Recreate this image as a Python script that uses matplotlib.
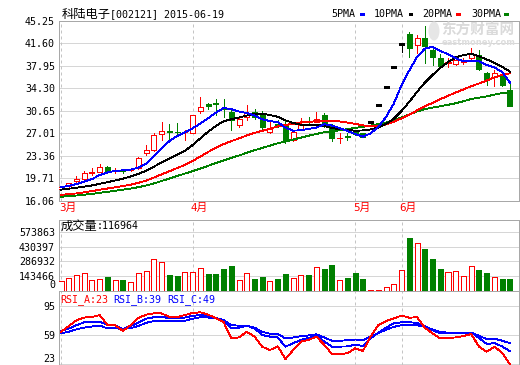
import matplotlib
matplotlib.use("Agg")
import matplotlib.pyplot as plt
from matplotlib.patches import Rectangle, Ellipse

# ---------------- data ----------------
stock_name = "科陆电子"
stock_code = "[002121] 2015-06-19"
month_labels = ["3月", "4月", "5月", "6月"]
month_start = [0, 17, 38, 44]

opens = [18.0, 18.5, 19.25, 19.65, 20.6, 20.8, 21.5, 20.9, 21.05, 21.0,
         21.35, 23.8, 24.3, 26.9, 27.35, 27.3, 27.15, 27.1, 30.7, 31.7,
         31.85, 31.05, 30.5, 28.3, 29.7, 30.4, 30.3, 27.25, 28.5, 28.4,
         25.9, 27.6, 28.85, 28.9, 30.0, 28.2, 26.2, 26.55, 27.3, 27.0,
         28.9, 31.55, 34.5, 37.8, 41.4, 43.1, 41.3, 42.4, 40.5, 39.2,
         38.4, 38.2, 38.55, 39.2, 39.7, 36.85, 36.1, 36.6, 34.0]
highs = [18.4, 19.0, 20.1, 20.9, 21.45, 22.05, 21.7, 21.35, 21.3, 21.4,
         23.15, 25.1, 27.0, 28.9, 28.6, 28.7, 27.6, 30.0, 32.85, 32.0,
         32.5, 32.5, 30.95, 29.7, 31.6, 31.0, 30.6, 29.2, 29.2, 29.2,
         27.4, 29.45, 29.7, 30.5, 30.3, 28.5, 27.0, 27.0, 27.5, 27.1,
         28.9, 31.55, 34.5, 37.8, 41.4, 43.5, 43.0, 44.4, 41.1, 39.9,
         39.2, 39.1, 39.2, 40.9, 40.45, 37.0, 37.3, 37.0, 35.0]
lows = [17.8, 18.4, 19.2, 19.5, 20.3, 20.7, 20.8, 20.55, 20.6, 20.9,
        21.2, 23.5, 24.2, 26.0, 26.0, 26.9, 26.0, 27.0, 30.3, 30.9,
        30.0, 29.6, 27.6, 28.0, 29.1, 29.3, 27.7, 27.0, 28.1, 25.5,
        25.7, 27.5, 28.4, 28.8, 28.1, 25.8, 25.4, 25.9, 26.7, 26.4,
        28.9, 31.55, 34.5, 37.8, 40.2, 39.3, 40.0, 38.35, 38.1, 37.8,
        37.8, 38.0, 38.2, 39.0, 37.2, 34.85, 34.6, 34.6, 31.45]
closes = [18.25, 18.9, 19.6, 20.6, 20.7, 21.5, 20.95, 21.0, 20.95, 21.3,
          23.1, 24.3, 26.75, 27.4, 27.25, 27.2, 27.3, 30.0, 31.3, 31.5,
          31.7, 31.0, 29.2, 29.3, 30.35, 29.7, 28.0, 27.65, 28.4, 25.9,
          27.3, 28.35, 28.8, 29.3, 28.75, 26.2, 26.3, 26.45, 26.9, 26.5,
          28.9, 31.55, 34.5, 37.8, 41.4, 40.8, 42.4, 41.2, 39.3, 37.9,
          38.5, 38.9, 38.65, 39.85, 37.4, 35.65, 36.85, 34.85, 31.45]

ma5 = [18.3, 18.5, 18.8, 19.2, 19.61, 20.26, 20.67, 20.95, 21.02, 21.14,
       21.46, 22.13, 23.28, 24.57, 25.76, 26.58, 27.18, 27.83, 28.61, 29.46,
       30.36, 31.10, 30.94, 30.54, 30.31, 29.91, 29.31, 29.0, 28.82, 27.93,
       27.45, 27.52, 27.75, 27.93, 28.5, 28.28, 27.87, 27.4, 26.92, 26.47,
       27.01, 28.06, 29.67, 31.85, 34.83, 37.21, 39.38, 40.72, 41.02, 40.32,
       39.86, 39.16, 38.65, 38.76, 38.66, 38.09, 37.68, 36.92, 35.24]
ma10 = [17.9, 18.05, 18.2, 18.38, 18.58, 18.85, 19.1, 19.38, 19.66, 20.05,
        20.45, 20.95, 21.62, 22.3, 22.95, 23.52, 24.18, 25.12, 26.2, 27.28,
        28.2, 28.95, 29.3, 29.58, 29.89, 30.14, 30.21, 29.97, 29.69, 29.13,
        28.69, 28.42, 28.38, 28.38, 28.22, 27.87, 27.70, 27.58, 27.43, 27.49,
        27.65, 27.96, 28.53, 29.38, 30.65, 32.12, 33.74, 35.21, 36.46, 37.60,
        38.56, 39.29, 39.70, 39.89, 39.49, 38.98, 38.42, 37.79, 37.00]
ma20 = [17.07, 17.16, 17.29, 17.47, 17.66, 17.88, 18.08, 18.28, 18.48, 18.7,
        19.0, 19.36, 19.85, 20.37, 20.88, 21.39, 21.9, 22.55, 23.26, 23.99,
        24.67, 25.27, 25.75, 26.19, 26.67, 27.08, 27.43, 27.76, 28.13, 28.36,
        28.57, 28.78, 28.88, 28.97, 29.05, 29.0, 28.95, 28.77, 28.55, 28.30,
        28.18, 28.21, 28.47, 28.90, 29.45, 30.01, 30.73, 31.41, 31.94, 32.54,
        33.10, 33.63, 34.12, 34.65, 35.08, 35.56, 36.08, 36.50, 36.73]
ma30 = [16.75, 16.85, 16.95, 17.08, 17.22, 17.38, 17.55, 17.72, 17.9, 18.08,
        18.3, 18.58, 18.9, 19.3, 19.7, 20.1, 20.5, 20.9, 21.3, 21.75,
        22.2, 22.63, 23.03, 23.43, 23.86, 24.28, 24.65, 25.02, 25.41, 25.70,
        26.01, 26.32, 26.63, 26.92, 27.19, 27.34, 27.52, 27.70, 27.90, 28.07,
        28.27, 28.51, 28.77, 29.12, 29.59, 30.05, 30.55, 30.92, 31.19, 31.40,
        31.63, 31.89, 32.21, 32.56, 32.80, 32.99, 33.29, 33.53, 33.62]

volumes = [93200, 119400, 148800, 168400, 99700, 109600, 129200, 99700, 99700, 80100,
           168400, 194600, 312300, 279600, 152100, 142200, 178200, 184700, 224000, 161900,
           161900, 207600, 240300, 106300, 168400, 112800, 135700, 93200, 112800, 161900,
           119400, 152100, 152100, 227300, 210900, 250200, 103000, 122600, 174900, 112800,
           8000, 8000, 37600, 63800, 201100, 515000, 462700, 407100, 309000, 210900,
           181500, 191300, 142200, 240300, 201100, 174900, 129200, 112800, 116964]

rsi_a = [63, 70, 77, 80.5, 81, 83.5, 71.3, 71, 64, 71,
         80, 84, 85.6, 85.6, 81, 81, 83.5, 86, 86.9, 84,
         80, 75, 55, 56, 63, 57, 44.5, 40.6, 45, 29.5,
         40.6, 50.8, 52.9, 57, 47, 35.7, 35.7, 36.5, 42.6, 39.3,
         57, 71.3, 76, 79.5, 82.8, 80.3, 80.8, 68, 61, 54.9,
         55.5, 56, 57.8, 60.2, 44.7, 38.5, 44.7, 37, 23]
rsi_b = [63.9, 67, 71, 74.6, 75, 75.4, 71.3, 71, 66.4, 70,
         74, 79, 80.8, 81.5, 79.5, 79.5, 80.5, 82.5, 83.6, 82,
         80, 77.4, 67.2, 68, 70.5, 67, 59, 57, 56, 44.7,
         49, 53, 55.5, 58, 51, 44.7, 44.7, 45, 47, 45.5,
         55, 62, 68, 73.3, 74.6, 74.6, 74, 70, 65, 61.1,
         61.1, 61.1, 61.5, 62, 55.5, 48, 49, 45, 39]
rsi_c = [61.1, 63, 66, 68, 69.5, 70.5, 67.2, 67.2, 66.4, 67.5,
         70, 74, 76, 76.2, 76, 76, 76.5, 79, 80.8, 80.5,
         79.5, 77.4, 71, 70.5, 70.5, 68, 63, 60.5, 60, 54.9,
         56, 57.5, 58.5, 59.8, 56, 52, 52, 52.5, 53.5, 52.5,
         57, 61.5, 65.5, 69, 71, 71.3, 71, 69, 66, 62.5,
         62, 61.5, 61.5, 62, 58, 54, 54.5, 52, 49]

price_ticks = [16.06, 19.71, 23.36, 27.01, 30.65, 34.30, 37.95, 41.60, 45.25]
price_tick_labels = ["16.06", "19.71", "23.36", "27.01", "30.65", "34.30", "37.95", "41.60", "45.25"]
vol_ticks = [0, 143466, 286932, 430397, 573863]
vol_tick_labels = ["0", "143466", "286932", "430397", "573863"]
rsi_ticks = [23, 59, 95]
rsi_tick_labels = ["23", "59", "95"]
legend_names = ["5PMA", "10PMA", "20PMA", "30PMA"]
vol_title = "成交量"
vol_last = ":116964"
rsi_names = ["RSI_A:23", "RSI_B:39", "RSI_C:49"]
watermark_cn = "东方财富网"
watermark_en = "eastmoney.com"

# ---------------- styling ----------------
RED = "#ff0000"
GREEN = "#008000"
BLUE = "#0000ff"
GRID = "#d6d6d6"
SPINE = "#a8a8a8"
MONO = "DejaVu Sans Mono"
CJK = "Noto Sans CJK SC"
FS = 7.2
LW = 0.72

W, H = 520, 365
fig = plt.figure(figsize=(W / 100, H / 100), dpi=100)
fig.patch.set_facecolor("white")


def frect(x0, y0, x1, y1):
    return [x0 / W, 1 - y1 / H, (x1 - x0) / W, (y1 - y0) / H]


def ftext(x, y, s, **kw):
    return fig.text(x / W, 1 - y / H, s, **kw)


LEFT, RIGHT = 59, 519
STEP = 7.74
X0 = 61
xlim = ((LEFT - X0) / STEP, (RIGHT - X0) / STEP)

ax = fig.add_axes(frect(LEFT, 20.7, RIGHT, 201))
axv = fig.add_axes(frect(LEFT, 219.5, RIGHT, 290.5))
axr = fig.add_axes(frect(LEFT, 290.5, RIGHT, 364.5))

vol_top = 573863 * (290.5 - 219.5) / (290.5 - 232.0)
rsi_scale = (364.3 - 305.7) / 72.0
rsi_top = 95 + (305.7 - 290.5) / rsi_scale
rsi_bot = 23 - (364.5 - 364.3) / rsi_scale

for a in (ax, axv, axr):
    a.set_xlim(*xlim)
    a.set_xticks([])
    a.tick_params(axis="y", length=0, pad=2.9, labelsize=FS)
    for sp in a.spines.values():
        sp.set_color(SPINE)
        sp.set_linewidth(LW)
    a.set_axisbelow(True)
    a.grid(axis="y", color=GRID, lw=LW)
    for m in month_start:
        a.axvline(m, color="#c4c4c4", lw=LW, ls=(0, (3, 3)), zorder=1)

ax.set_ylim(16.06, 45.25)
ax.set_yticks(price_ticks)
ax.set_yticklabels(price_tick_labels, fontfamily=MONO, fontsize=FS)

axv.set_ylim(0, vol_top)
axv.set_yticks(vol_ticks)
axv.set_yticklabels(vol_tick_labels, fontfamily=MONO, fontsize=FS)
axv.get_yticklabels()[0].set_va("bottom")

axr.set_ylim(rsi_bot, rsi_top)
axr.set_yticks(rsi_ticks)
axr.set_yticklabels(rsi_tick_labels, fontfamily=MONO, fontsize=FS)
axr.get_yticklabels()[0].set_va("bottom")

# watermark (behind the candles)
ftext(441, 30, watermark_cn, fontfamily=CJK, fontsize=10.5, fontweight="bold",
      color="#dadada", va="center", ha="left", zorder=0)
ftext(442, 42.5, watermark_en, fontfamily="DejaVu Sans", fontsize=6.0, fontweight="bold",
      color="#dddddd", va="center", ha="left", zorder=0)
fig.patches.append(Ellipse((434 / W, 1 - 31 / H), 11 / W, 19 / H, transform=fig.transFigure,
                           facecolor="#e6e6e6", edgecolor="none", zorder=0))

# candles
bw = 0.65
n = len(closes)
for i in range(n):
    o, h, l, c = opens[i], highs[i], lows[i], closes[i]
    if c > o:
        col, face = RED, "white"
    elif c < o:
        col, face = GREEN, GREEN
    else:
        col, face = "black", "black"
    ax.vlines(i, l, h, color=col, lw=LW, zorder=3, antialiased=False)
    if c != o:
        ax.bar(i, abs(c - o), bw, bottom=min(o, c), facecolor=face, edgecolor=col,
               lw=LW, zorder=4, antialiased=False)
    else:
        ax.hlines(c, i - bw / 2, i + bw / 2, color=col, lw=LW * 1.4, zorder=4, antialiased=False)

xs = list(range(n))
MLW = 0.62
ax.plot(xs, ma30, color=GREEN, lw=MLW, zorder=5, antialiased=False)
ax.plot(xs, ma20, color=RED, lw=MLW, zorder=5, antialiased=False)
ax.plot(xs, ma10, color="black", lw=MLW, zorder=5, antialiased=False)
ax.plot(xs, ma5, color=BLUE, lw=MLW, zorder=5, antialiased=False)

for m, lab in zip(month_start, month_labels):
    ax.text(m - 2 / STEP, -0.039, lab, transform=ax.get_xaxis_transform(), color=RED,
            fontfamily=[MONO, CJK], fontsize=7.8, ha="left", va="center")

for i in range(n):
    up = closes[i] >= opens[i]
    axv.bar(i, volumes[i], bw, facecolor="white" if up else GREEN,
            edgecolor=RED if up else GREEN, lw=LW, zorder=3, antialiased=False)

axr.plot(xs, rsi_c, color=BLUE, lw=MLW, zorder=3, antialiased=False)
axr.plot(xs, rsi_b, color=BLUE, lw=MLW, zorder=3, antialiased=False)
axr.plot(xs, rsi_a, color=RED, lw=MLW, zorder=4, antialiased=False)

ftext(62, 14, stock_name, fontfamily=CJK, fontsize=8.8, va="center", ha="left")
ftext(110, 14, stock_code, fontfamily=MONO, fontsize=FS, va="center", ha="left")

leg_x = [331, 374, 422, 471]
sq_x = [360, 408.5, 456, 504]
leg_cols = [BLUE, "black", RED, GREEN]
for name, tx, sx, c in zip(legend_names, leg_x, sq_x, leg_cols):
    ftext(tx, 14, name, fontfamily=MONO, fontsize=FS, va="center", ha="left")
    fig.patches.append(Rectangle((sx / W, 1 - 15.5 / H), 4.5 / W, 3 / H,
                                 transform=fig.transFigure, facecolor=c, edgecolor="none"))

ftext(61, 226, vol_title, fontfamily=CJK, fontsize=8.8, va="center", ha="left")
ftext(97, 226, vol_last, fontfamily=MONO, fontsize=FS, va="center", ha="left")

for name, tx, c in zip(rsi_names, [60, 113, 167], [RED, BLUE, BLUE]):
    ftext(tx, 300, name, fontfamily=MONO, fontsize=FS, va="center", ha="left", color=c)

fig.savefig("out.png", dpi=100)
